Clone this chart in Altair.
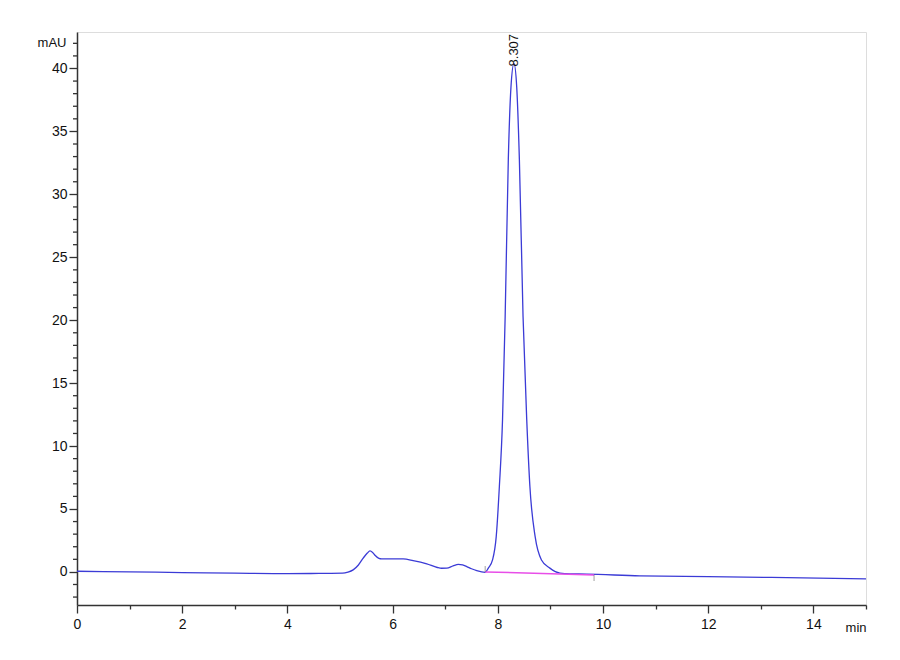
import altair as alt
import pandas as pd

# Chromatogram trace (min, mAU)
time_min = [0.0, 1.0, 2.0, 3.0, 4.0, 4.6, 5.05, 5.15, 5.25, 5.35, 5.44, 5.52, 5.57,
            5.62, 5.67, 5.74, 5.79, 6.0, 6.2, 6.39, 6.65, 6.85, 6.93, 7.03, 7.15,
            7.25, 7.33, 7.41, 7.5, 7.6, 7.76, 7.82, 7.90, 7.97, 8.03, 8.09, 8.14,
            8.20, 8.25, 8.307, 8.36, 8.41, 8.48, 8.55, 8.61, 8.71, 8.83, 8.99,
            9.18, 9.37, 9.69, 10.7, 12.0, 13.5, 15.0]
signal_mau = [0.05, 0.0, -0.05, -0.1, -0.14, -0.12, -0.1, -0.02, 0.16, 0.55, 1.09, 1.5, 1.67,
              1.55, 1.3, 1.07, 1.03, 1.03, 1.03, 0.9, 0.64, 0.35, 0.29, 0.3, 0.48,
              0.6, 0.55, 0.42, 0.25, 0.1, -0.03, 0.3, 0.95, 2.8, 6.8, 12.1, 20.3,
              32.8, 38.5, 40.4, 38.5, 32.8, 20.3, 12.1, 6.8, 2.8, 0.95, 0.3,
              -0.1, -0.16, -0.17, -0.32, -0.37, -0.46, -0.56]

# Integration baseline
baseline_time = [7.76, 9.83]
baseline_mau = [0.0, -0.24]

# Peak annotation
peak_rt = [8.307]
peak_mau = [40.4]
peak_label = ["8.307"]

# Axis ticks
x_ticks = [i * 0.5 for i in range(0, 31)]
y_major = [0, 5, 10, 15, 20, 25, 30, 35, 40]
y_minor = [v for v in range(-2, 43) if v % 5 != 0]

trace = pd.DataFrame({"t": time_min, "s": signal_mau})
base = pd.DataFrame({"t": baseline_time, "s": baseline_mau})
peak = pd.DataFrame({"t": peak_rt, "s": peak_mau, "label": peak_label})
minor_y = pd.DataFrame({"s": y_minor})

FONT = "Liberation Sans, Arial"
AXC = "#333333"

x_scale = alt.Scale(domain=[0, 15], nice=False, zero=False)
y_scale = alt.Scale(domain=[-2.63, 42.9], nice=False, zero=False)

x_axis = alt.Axis(
    values=x_ticks, grid=False, title="min",
    labelExpr="datum.value % 2 === 0 ? datum.label : ''",
    tickSize={"condition": {"test": "datum.value % 2 === 0", "value": 8}, "value": 4},
    labelOverlap=False, labelFlush=False, labelPadding=4,
    labelFont=FONT, labelFontSize=14, labelColor="#111111",
    titleFont=FONT, titleFontSize=13, titleFontWeight="normal", titleColor="#111111",
    titleAnchor="end", titleAlign="right", titleX=789, titleY=26, titleBaseline="alphabetic",
    domainColor=AXC, tickColor=AXC, domainWidth=1.5, tickWidth=1.3,
)
y_axis = alt.Axis(
    values=y_major, grid=False, title="mAU", tickSize=8,
    labelOverlap=False, labelFlush=False, labelPadding=2,
    labelFont=FONT, labelFontSize=14, labelColor="#111111",
    titleFont=FONT, titleFontSize=13, titleFontWeight="normal", titleColor="#111111",
    titleAngle=0, titleAlign="right", titleBaseline="middle", titleX=-11, titleY=10,
    domainColor=AXC, tickColor=AXC, domainWidth=1.5, tickWidth=1.3,
)

line = alt.Chart(trace).mark_line(color="#3b3bd6", strokeWidth=1.3, interpolate="monotone").encode(
    x=alt.X("t:Q", scale=x_scale, axis=x_axis),
    y=alt.Y("s:Q", scale=y_scale, axis=y_axis),
)

minor = alt.Chart(minor_y).mark_rule(color=AXC, strokeWidth=1.3).encode(
    y=alt.Y("s:Q", scale=y_scale),
    x=alt.value(-4), x2=alt.value(0),
)

bl = alt.Chart(base).mark_line(color="#e84ee8", strokeWidth=1.5).encode(
    x=alt.X("t:Q", scale=x_scale), y=alt.Y("s:Q", scale=y_scale)
)

bl_start = alt.Chart(base.iloc[[0]]).mark_tick(orient="vertical", size=6, thickness=1, color="#777777", yOffset=-3).encode(
    x=alt.X("t:Q", scale=x_scale), y=alt.Y("s:Q", scale=y_scale)
)
bl_end = alt.Chart(base.iloc[[1]]).mark_tick(orient="vertical", size=6, thickness=1, color="#777777", yOffset=3).encode(
    x=alt.X("t:Q", scale=x_scale), y=alt.Y("s:Q", scale=y_scale)
)

label = alt.Chart(peak).mark_text(
    angle=270, align="left", baseline="middle", dx=-3,
    font="Liberation Sans, Arial", fontSize=13, color="#111111",
).encode(
    x=alt.X("t:Q", scale=x_scale), y=alt.Y("s:Q", scale=y_scale), text="label:N"
)

chart = alt.layer(line, minor, bl, bl_start, bl_end, label).properties(
    width=789, height=573,
    autosize=alt.AutoSizeParams(type="none"),
    padding={"left": 69, "top": 24, "right": 20, "bottom": 40},
).configure_view(stroke=None).configure(background="white")

chart.save("out.html", embed_options={"renderer": "svg", "actions": False})
